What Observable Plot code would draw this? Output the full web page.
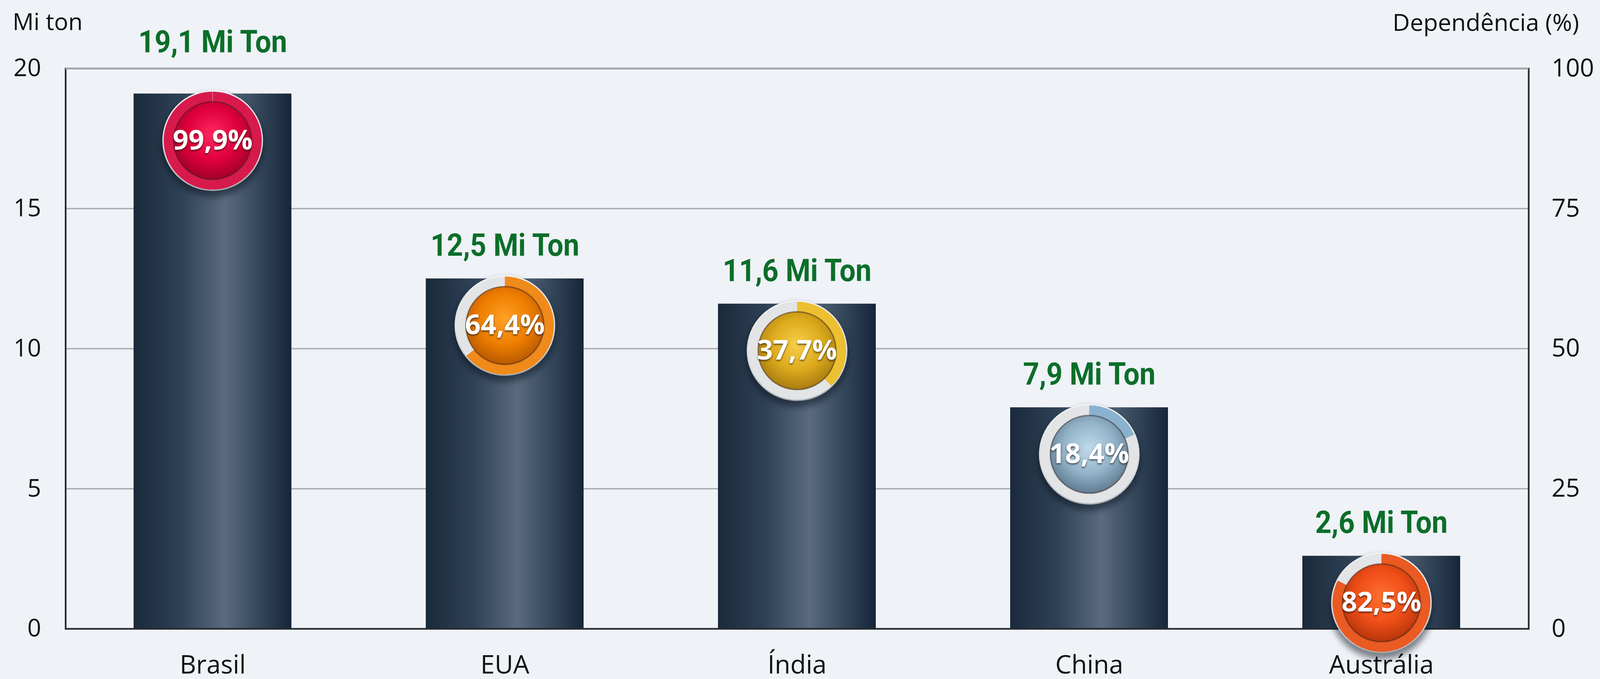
<!DOCTYPE html>
<html>
<head>
<meta charset="utf-8">
<script src="https://cdn.jsdelivr.net/npm/d3@7"></script>
<script src="https://cdn.jsdelivr.net/npm/@observablehq/plot@0.6"></script>
<style>
  html, body { margin: 0; padding: 0; background: #eff2f7; overflow: hidden; }
  #chart svg { display: block; }
  g[aria-description="badge-shadow"] > * { filter: blur(8px); }
  g[aria-description="badge-text"] text { filter: drop-shadow(0 3px 2px rgba(0,0,0,0.6)); }
</style>
</head>
<body>
<div id="chart"></div>
<script>
// ---- data ----
const countries = ["Brasil", "EUA", "Índia", "China", "Austrália"];
const production = [19.1, 12.5, 11.6, 7.9, 2.6];          // Mi ton
const dependence = [99.9, 64.4, 37.7, 18.4, 82.5];        // %
const yTicks = [0, 5, 10, 15, 20];
const pctTicks = [0, 25, 50, 75, 100];
const yMax = 20, pctMax = 100;
const leftTitle = "Mi ton";
const rightTitle = "Dependência (%)";

// ---- size: fill the viewport, layout proportional to a 4767x1739 design ----
const W = window.innerWidth || 4767, H = window.innerHeight || 1739;
const kx = W / 4767, ky = H / 1739;
const X = v => v * kx, Y = v => v * ky;

// ---- styling ----
const ringColors = ["#d8194c", "#f08a1a", "#ecc030", "#8ab2cf", "#ea5a22"];
const innerStops = [
  ["#ff2a60", "#e0003c", "#9e0029"],
  ["#ffa126", "#ee7e00", "#b45600"],
  ["#f7d04a", "#dcaa1c", "#a47810"],
  ["#c0daea", "#93b3c9", "#5b778d"],
  ["#ff7030", "#f04e18", "#b3340a"]
];
const green = "#0b6e29";
const labelFont = "'Liberation Sans Narrow', 'Roboto', sans-serif";
const baseFont = "'Open Sans', 'Noto Sans', sans-serif";

const rows = countries.map((c, i) => ({
  i, country: c, value: production[i], pct: dependence[i]
}));
const fmt = v => v.toFixed(1).replace(".", ",");

const badgeDy = Y(120), badgeR = X(150), ringR = X(131), ringW = X(30), innerR = X(116);

const arcSymbol = p => ({
  draw(ctx, size) {
    const r = Math.sqrt(size / Math.PI);
    const a0 = -Math.PI / 2;
    ctx.moveTo(0, -r);
    ctx.arc(0, 0, r, a0, a0 + 2 * Math.PI * p / 100);
  }
});

function defsMark() {
  const g = d3.create("svg:g");
  const defs = g.append("defs");
  const bar = defs.append("linearGradient").attr("id", "barGrad")
    .attr("x1", 0).attr("x2", 1).attr("y1", 0).attr("y2", 0);
  [[0, "#1a2a3c"], [0.3, "#2f4156"], [0.58, "#5a6b80"], [0.8, "#34465a"], [1, "#16263a"]]
    .forEach(([o, c]) => bar.append("stop").attr("offset", o).attr("stop-color", c));
  const bev = defs.append("radialGradient").attr("id", "bevel").attr("cx", "50%").attr("cy", "45%").attr("r", "55%");
  [[0.8, "#f4f4f4"], [0.93, "#d2d5d8"], [1, "#9ea3a8"]]
    .forEach(([o, c]) => bev.append("stop").attr("offset", o).attr("stop-color", c));
  innerStops.forEach((s, i) => {
    const rg = defs.append("radialGradient").attr("id", `badge-${i}`)
      .attr("cx", "50%").attr("cy", "42%").attr("r", "60%");
    rg.append("stop").attr("offset", 0).attr("stop-color", s[0]);
    rg.append("stop").attr("offset", 0.55).attr("stop-color", s[1]);
    rg.append("stop").attr("offset", 1).attr("stop-color", s[2]);
  });
  return g.node();
}

const isTop = d => d.value >= 0.9 * yMax;
const labelSuffix = " Mi Ton";
const labelText = d => fmt(d.value) + labelSuffix;

const marks = [
  defsMark,
  Plot.ruleY([5, 10, 15], {stroke: "#a9adb2", strokeWidth: X(4)}),
  Plot.barY(rows, {x: "country", y: "value", fill: "url(#barGrad)"}),
  Plot.frame({stroke: "#26292d", strokeWidth: X(5)}),
  Plot.ruleY([yMax], {stroke: "#a3a7ac", strokeWidth: X(6)}),
  Plot.axisX({tickSize: 0, tickPadding: Y(68), fontSize: X(76), fontFamily: baseFont, fill: "#111", label: null}),
  Plot.axisY(yTicks, {anchor: "left", tickSize: 0, tickPadding: X(73), fontSize: X(72), fontFamily: baseFont, fill: "#111",
    label: null, tickFormat: d => String(d)}),
  Plot.axisY(pctTicks.map(p => p * yMax / pctMax), {
    anchor: "right", tickSize: 0, tickPadding: X(68), fontSize: X(74), fontFamily: baseFont, fill: "#111",
    textAnchor: "start", label: null, tickFormat: d => String(Math.round(d * pctMax / yMax))
  }),
  Plot.text([leftTitle], {frameAnchor: "top-left", textAnchor: "start", lineAnchor: "middle", dx: X(-158), dy: Y(-118),
    fontSize: X(70), fontFamily: baseFont, fill: "#111"}),
  Plot.text([rightTitle], {frameAnchor: "top-right", textAnchor: "end", lineAnchor: "middle", dx: X(150), dy: Y(-116),
    fontSize: X(71), fontFamily: baseFont, fill: "#111"}),
  // badges
  Plot.dot(rows, {x: "country", y: "value", dy: badgeDy + Y(12), r: badgeR + X(4), fill: "#08121c", fillOpacity: 0.5,
    ariaDescription: "badge-shadow"}),
  Plot.dot(rows, {x: "country", y: "value", dy: badgeDy, r: badgeR, fill: "url(#bevel)"}),
  Plot.dot(rows, {x: "country", y: "value", dy: badgeDy, r: ringR, fill: "none", stroke: "#e2e4e6", strokeWidth: ringW}),
  ...rows.map(d => Plot.dot([d], {
    x: "country", y: "value", dy: badgeDy, r: ringR, symbol: arcSymbol(d.pct),
    fill: "none", stroke: ringColors[d.i], strokeWidth: ringW
  })),
  Plot.dot(rows, {x: "country", y: "value", dy: badgeDy, r: innerR, fill: d => `url(#badge-${d.i})`,
    stroke: "rgba(40,20,10,0.45)", strokeWidth: X(4)}),
  Plot.text(rows, {x: "country", y: "value", dy: badgeDy, text: d => fmt(d.pct) + "%",
    fill: "white", fontSize: X(82), fontWeight: "bold", fontFamily: baseFont, ariaDescription: "badge-text"}),
  // production labels
  Plot.text(rows.filter(d => !isTop(d)), {x: "country", y: "value", dy: Y(-84), lineAnchor: "middle",
    text: labelText, fill: green, fontSize: X(92), fontWeight: "bold", fontFamily: labelFont, ariaDescription: "prod-label"}),
  Plot.text(rows.filter(isTop), {x: "country", frameAnchor: "top", lineAnchor: "middle", dy: Y(-67),
    text: labelText, fill: green, fontSize: X(92), fontWeight: "bold", fontFamily: labelFont, ariaDescription: "prod-label"})
];

const chart = Plot.plot({
  width: W,
  height: H,
  marginLeft: X(195),
  marginRight: X(213),
  marginTop: Y(175),
  marginBottom: Y(129),
  x: {domain: countries, paddingInner: 0.46, paddingOuter: 0.232, label: null, axis: null},
  y: {domain: [0, yMax], label: null, axis: null},
  color: {type: "identity"},
  style: {background: "#eff2f7", fontFamily: baseFont, color: "#111", overflow: "visible"},
  marks
});
document.getElementById("chart").append(chart);

// condense the production labels horizontally (narrow bold look)
const condense = el => {
  const t = el.getAttribute("transform");
  if (t) {
    el.setAttribute("transform", t + " scale(0.92,1)");
  } else {
    const x = +el.getAttribute("x") || 0, y = +el.getAttribute("y") || 0;
    el.removeAttribute("x"); el.removeAttribute("y");
    el.setAttribute("transform", `translate(${x},${y}) scale(0.92,1)`);
  }
};
chart.querySelectorAll("text").forEach(el => {
  if (el.textContent.endsWith(labelSuffix)) condense(el);
});
// fallback for blur/shadow styling if aria-description is not emitted
chart.querySelectorAll("circle").forEach(el => {
  if ((el.getAttribute("fill") || "") === "#08121c" || el.parentNode.getAttribute("fill") === "#08121c") {
    el.style.filter = "blur(8px)";
  }
});
chart.querySelectorAll("text").forEach(el => {
  if (el.textContent.endsWith("%") && el.textContent.includes(",")) {
    el.style.filter = "drop-shadow(0 3px 2px rgba(0,0,0,0.6))";
  }
});
</script>
</body>
</html>
